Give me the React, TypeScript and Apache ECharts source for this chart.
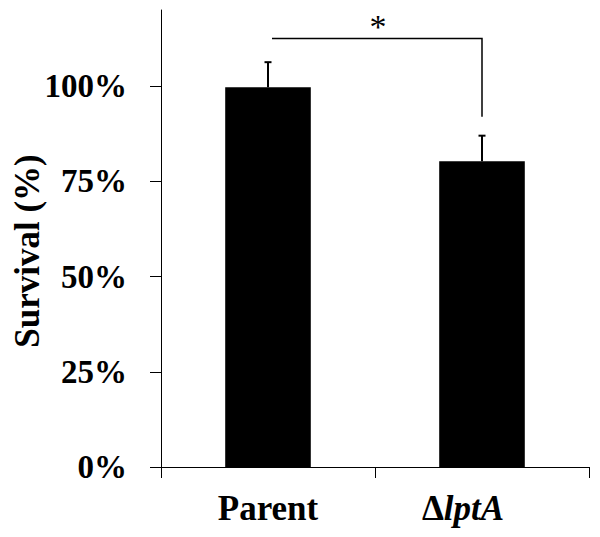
import React, { useEffect, useRef } from "react";
import * as echarts from "echarts";

const categories = ["Parent", "ΔlptA"];
const survival = [99.7, 80.3];
const errorTop = [106.3, 87.0];
const yTickValues = [0, 25, 50, 75, 100];
const bracketLevel = 112.5;
const bracketDrop = 92;
const significance = "*";

export default function App() {
  const ref = useRef<HTMLDivElement>(null);
  useEffect(() => {
    if (!ref.current) return;
    const chart = echarts.init(ref.current, null, { renderer: "svg" });
    const font = "'Liberation Serif', 'Times New Roman', serif";
    chart.setOption({
      animation: false,
      backgroundColor: "#fff",
      textStyle: { fontFamily: font },
      grid: { left: 161, right: 11, top: 10, bottom: 70 },
      xAxis: {
        type: "category",
        data: categories,
        axisLine: { lineStyle: { color: "#000", width: 1 } },
        axisTick: { show: true, length: 11, interval: 0, lineStyle: { color: "#000" } },
        axisLabel: {
          interval: 0,
          hideOverlap: false,
          margin: 24,
          color: "#000",
          fontFamily: font,
          fontSize: 35,
          fontWeight: "bold",
          formatter: (v: string) =>
            v === "ΔlptA" ? "{d|Δ}{i|lptA}{s| }" : "{b|" + v + "}",
          rich: {
            b: { fontFamily: font, fontSize: 35, fontWeight: "bold", color: "#000" },
            d: { fontFamily: font, fontSize: 35, fontWeight: "bold", color: "#000" },
            i: {
              fontFamily: font,
              fontSize: 35,
              fontWeight: "bold",
              fontStyle: "italic",
              color: "#000",
            },
            s: { fontFamily: font, fontSize: 35, width: 38 },
          },
        },
      },
      yAxis: {
        type: "value",
        min: 0,
        max: 120,
        interval: 25,
        splitLine: { show: false },
        axisLine: { show: true, lineStyle: { color: "#000", width: 1 } },
        axisTick: {
          show: true,
          length: 11,
          lineStyle: { color: "#000" },
          customValues: yTickValues,
        },
        axisLabel: {
          margin: 34,
          color: "#000",
          fontFamily: font,
          fontSize: 33,
          fontWeight: "bold",
          customValues: yTickValues,
          formatter: (v: number) => v + "%",
        },
      },
      graphic: [
        {
          type: "text",
          x: 27,
          y: 251,
          rotation: Math.PI / 2,
          style: {
            text: "Survival (%)",
            fontFamily: font,
            fontSize: 35,
            fontWeight: "bold",
            fill: "#000",
            align: "center",
            verticalAlign: "middle",
          },
        },
      ],
      series: [
        {
          type: "bar",
          data: survival,
          barWidth: "40%",
          itemStyle: { color: "#000" },
        },
        {
          type: "custom",
          data: categories.map((_, i) => [i, survival[i], errorTop[i]]),
          renderItem: (params: any, api: any) => {
            const base = api.coord([api.value(0), api.value(1)]);
            const top = api.coord([api.value(0), api.value(2)]);
            return {
              type: "group",
              children: [
                {
                  type: "line",
                  shape: { x1: base[0], y1: base[1], x2: top[0], y2: top[1] },
                  style: { stroke: "#000", lineWidth: 2 },
                },
                {
                  type: "line",
                  shape: { x1: top[0] - 3.5, y1: top[1], x2: top[0] + 3.5, y2: top[1] },
                  style: { stroke: "#000", lineWidth: 2 },
                },
              ],
            };
          },
          z: 3,
        },
        {
          type: "custom",
          data: [[0, 1, bracketLevel, bracketDrop]],
          renderItem: (params: any, api: any) => {
            const a = api.coord([api.value(0), api.value(2)]);
            const b = api.coord([api.value(1), api.value(2)]);
            const c = api.coord([api.value(1), api.value(3)]);
            return {
              type: "group",
              children: [
                {
                  type: "polyline",
                  shape: { points: [[a[0] + 4, a[1]], b, c] },
                  style: { stroke: "#000", lineWidth: 1.5, fill: null },
                },
                {
                  type: "text",
                  x: (a[0] + 4 + b[0]) / 2 + 1,
                  y: a[1] - 12,
                  style: {
                    text: significance,
                    fontFamily: font,
                    fontSize: 34,
                    fill: "#000",
                    align: "center",
                    verticalAlign: "middle",
                  },
                },
              ],
            };
          },
          z: 3,
        },
      ],
    });
    return () => chart.dispose();
  }, []);
  return <div ref={ref} style={{ width: 600, height: 537, marginLeft: -8, marginTop: -8 }} />;
}
